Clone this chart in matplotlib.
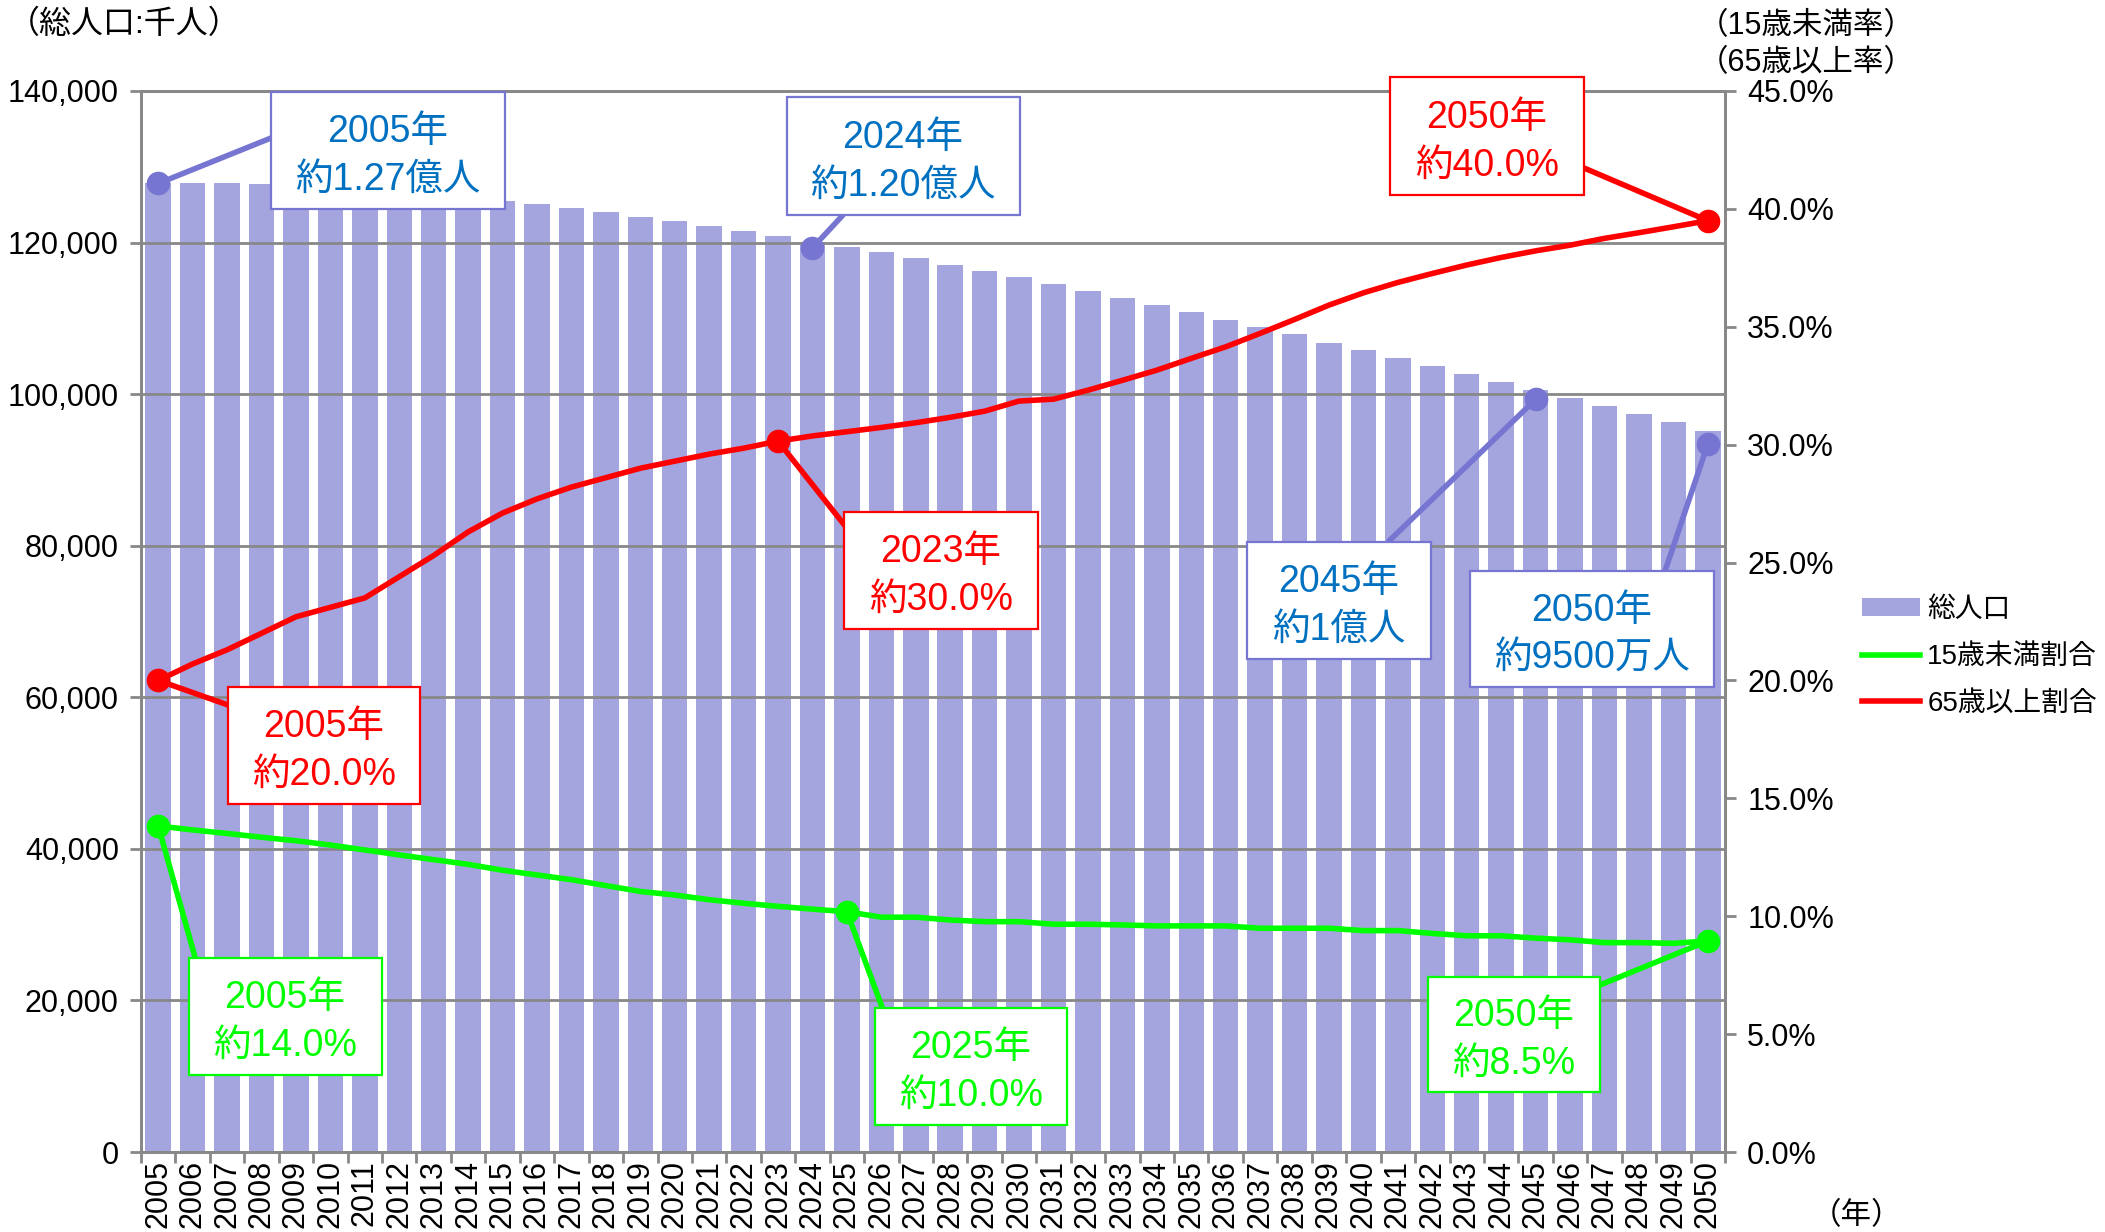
import numpy as np
import matplotlib
matplotlib.use('Agg')
import matplotlib.pyplot as plt
from matplotlib.patches import Rectangle
from matplotlib.ticker import FuncFormatter

plt.rcParams['font.family'] = ['Liberation Sans', 'Noto Sans CJK JP']

# ---- data ----
years = list(range(2005, 2051))
population = [127900, 127800, 127800, 127750, 127700, 127500, 127200, 126800, 126400, 126000,
              125500, 125100, 124500, 124000, 123400, 122800, 122200, 121500, 120850, 120100,
              119400, 118700, 117900, 117100, 116200, 115400, 114500, 113600, 112700, 111700,
              110800, 109800, 108800, 107900, 106800, 105800, 104800, 103700, 102600, 101600,
              100600, 99500, 98500, 97400, 96300, 95200]
ratio15 = [13.83, 13.66, 13.51, 13.35, 13.2, 13.02, 12.81, 12.6, 12.4, 12.2,
           11.95, 11.75, 11.55, 11.3, 11.05, 10.9, 10.7, 10.55, 10.42, 10.3,
           10.19, 9.96, 9.96, 9.84, 9.77, 9.77, 9.66, 9.66, 9.63, 9.59,
           9.59, 9.59, 9.49, 9.49, 9.49, 9.39, 9.39, 9.27, 9.17, 9.17,
           9.07, 9.0, 8.88, 8.88, 8.85, 8.95]
ratio65 = [20.0, 20.7, 21.3, 22.0, 22.7, 23.1, 23.5, 24.4, 25.3, 26.3,
           27.1, 27.7, 28.2, 28.6, 29.0, 29.3, 29.6, 29.85, 30.15, 30.37,
           30.55, 30.73, 30.93, 31.16, 31.42, 31.85, 31.93, 32.31, 32.73, 33.16,
           33.66, 34.15, 34.72, 35.31, 35.92, 36.44, 36.88, 37.26, 37.62, 37.94,
           38.22, 38.46, 38.75, 38.99, 39.24, 39.5]

# points marked on the population series
pop_mark_years = [2005, 2024, 2045, 2050]
pop_mark_values = [127800, 119300, 99300, 93400]
pop_mark_texts = ['2005年\n約1.27億人', '2024年\n約1.20億人', '2045年\n約1億人', '2050年\n約9500万人']
r65_mark_years = [2005, 2023, 2050]
r65_mark_texts = ['2005年\n約20.0%', '2023年\n約30.0%', '2050年\n約40.0%']
r15_mark_years = [2005, 2025, 2050]
r15_mark_texts = ['2005年\n約14.0%', '2025年\n約10.0%', '2050年\n約8.5%']

# ---- colours ----
BAR = '#A4A4DE'
PURPLE = '#7676D2'
BLUE_TXT = '#0070C0'
RED = '#FF0000'
GREEN = '#00FF00'
GRID = '#888888'

W, H = 2105, 1232
fig = plt.figure(figsize=(W / 100, H / 100), dpi=100)
ax = fig.add_axes([141 / W, 1 - 1152 / H, 1584 / W, 1061 / H])
ax2 = ax.twinx()

x = np.arange(len(years))
bars = ax.bar(x, population, width=0.74, color=BAR, zorder=1, label='総人口')
ax.set_xlim(-0.5, len(years) - 0.5)
ax.set_ylim(0, 140000)
ax.set_yticks(np.arange(0, 140001, 20000))
ax.yaxis.set_major_formatter(FuncFormatter(lambda v, p: f'{int(v):,}'))
ax.set_axisbelow(False)
ax.grid(axis='y', color=GRID, lw=2)

ax.set_xticks(np.arange(-0.5, len(years), 1))
ax.set_xticklabels([])
ax.set_xticks(x, minor=True)
ax.set_xticklabels([str(y) for y in years], minor=True, rotation=90, fontsize=22)
ax.tick_params(axis='x', which='major', length=8, width=2, color=GRID)
ax.tick_params(axis='x', which='minor', length=0, pad=6)
ax.tick_params(axis='y', length=8, width=2, color=GRID, labelsize=22, pad=8)

l15, = ax2.plot(x, ratio15, color=GREEN, lw=4, zorder=3, label='15歳未満割合')
l65, = ax2.plot(x, ratio65, color=RED, lw=4, zorder=3, label='65歳以上割合')
ax2.set_ylim(0, 45)
ax2.set_yticks(np.arange(0, 45.1, 5))
ax2.yaxis.set_major_formatter(FuncFormatter(lambda v, p: f'{v:.1f}%'))
ax2.tick_params(axis='y', length=8, width=2, color=GRID, labelsize=22, pad=8)

for a in (ax, ax2):
    for s in a.spines.values():
        s.set_color(GRID)
        s.set_linewidth(2)

# ---- callout boxes (pixel layout: box centre, box size, leader end) ----
layout_pop = [((388, 150), (234, 117), (271, 138)),
              ((903, 156), (233, 118), (843, 215)),
              ((1339, 600), (184, 117), (1389, 541)),
              ((1592, 629), (244, 116), (1665, 571))]
layout_65 = [((324, 745), (192, 117), (228, 705)),
             ((941, 570), (194, 117), (846, 527)),
             ((1487, 136), (194, 118), (1584, 168))]
layout_15 = [((285, 1016), (193, 117), (195, 957)),
             ((971, 1066), (192, 117), (882, 1007)),
             ((1514, 1034), (172, 115), (1600, 985))]


def callout(axis, xi, yv, text, color, edge, txtcolor, lay):
    (cx, cy), (bw, bh), (ex, ey) = lay
    axis.annotate('', xy=(xi, yv), xycoords='data', xytext=(ex, H - ey),
                  textcoords='figure pixels', annotation_clip=False,
                  arrowprops=dict(arrowstyle='-', color=color, lw=4, shrinkA=0, shrinkB=0))
    axis.plot([xi], [yv], 'o', color=color, ms=16, zorder=4, clip_on=False)
    rect = Rectangle(((cx - bw / 2) / W, 1 - (cy + bh / 2) / H), bw / W, bh / H,
                     transform=fig.transFigure, facecolor='white', edgecolor=edge, lw=1.6)
    fig.add_artist(rect)
    fig.text(cx / W, 1 - (cy + 6) / H, text, ha='center', va='center', fontsize=27,
             color=txtcolor, linespacing=1.4)


for yr, val, t, lay in zip(pop_mark_years, pop_mark_values, pop_mark_texts, layout_pop):
    callout(ax, years.index(yr), val, t, PURPLE, PURPLE, BLUE_TXT, lay)
for yr, t, lay in zip(r65_mark_years, r65_mark_texts, layout_65):
    i = years.index(yr)
    callout(ax2, i, ratio65[i], t, RED, RED, RED, lay)
for yr, t, lay in zip(r15_mark_years, r15_mark_texts, layout_15):
    i = years.index(yr)
    callout(ax2, i, ratio15[i], t, GREEN, GREEN, GREEN, lay)

# ---- axis captions ----
fig.text(8 / W, 1 - 25 / H, '（総人口:千人）', fontsize=23, ha='left', va='center')
fig.text(1698 / W, 1 - 26 / H, '（15歳未満率）', fontsize=22, ha='left', va='center')
fig.text(1698 / W, 1 - 63 / H, '（65歳以上率）', fontsize=22, ha='left', va='center')
fig.text(1856 / W, 1 - 1216 / H, '（年）', fontsize=22, ha='center', va='center')

fig.legend([bars, l15, l65], ['総人口', '15歳未満割合', '65歳以上割合'],
           loc='upper left', bbox_to_anchor=(1862 / W, 1 - 597 / H), frameon=False,
           fontsize=20, handlelength=2.1, handleheight=0.6, handletextpad=0.25,
           labelspacing=0.75, borderpad=0, borderaxespad=0)

fig.savefig('out.png', dpi=100)
